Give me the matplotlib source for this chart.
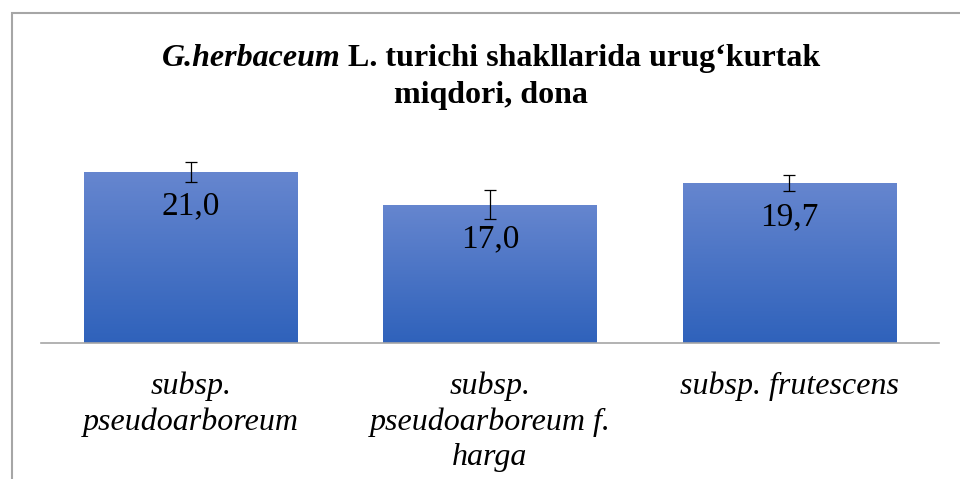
import numpy as np
import matplotlib
matplotlib.use("Agg")
import matplotlib.pyplot as plt
from matplotlib.patches import Rectangle
from matplotlib.colors import LinearSegmentedColormap

# data
categories = ["subsp.\npseudoarboreum", "subsp.\npseudoarboreum f.\nharga", "subsp. frutescens"]
values = [21.0, 17.0, 19.7]
errors = [1.2, 1.8, 1.0]
value_labels = ["21,0", "17,0", "19,7"]

plt.rcParams['font.family'] = ['Liberation Serif', 'DejaVu Serif']

fig = plt.figure(figsize=(9.6, 4.79), dpi=100)
ax = fig.add_axes([41/960, 136/479, 898/960, 203.5/479])

x = np.arange(len(values))
bars = ax.bar(x, values, width=0.712, color='none', edgecolor='none', zorder=1)

# vertical gradient fill for each bar
grad = LinearSegmentedColormap.from_list('g', ['#2F62BB', '#6686CF'])
for b in bars:
    x0, y0 = b.get_x(), b.get_y()
    w, h = b.get_width(), b.get_height()
    im = ax.imshow(np.linspace(0, 1, 256).reshape(-1, 1), cmap=grad, origin='lower',
                   extent=[x0, x0 + w, y0, y0 + h], aspect='auto', zorder=1)
    im.set_clip_path(b)

ax.errorbar(x, values, yerr=errors, fmt='none', ecolor='black', elinewidth=0.9,
            capsize=4.3, capthick=0.9, zorder=3)

for xi, v, lab in zip(x, values, value_labels):
    ax.annotate(lab, (xi, v), xytext=(0, -24.5), textcoords='offset points',
                ha='center', va='center', fontsize=24, zorder=4)

ax.set_xlim(-0.5, 2.5)
ax.set_ylim(0, 25)
ax.set_xticks(x)
ax.set_xticklabels(categories, fontsize=23, style='italic', linespacing=1.28, va='top')
ax.tick_params(axis='x', length=0, pad=20.5)
ax.set_yticks([])
for s in ['top', 'right', 'left']:
    ax.spines[s].set_visible(False)
ax.spines['bottom'].set_color('#A6A6A6')
ax.spines['bottom'].set_linewidth(1.2)
ax.patch.set_visible(False)

# outer chart border (bottom/right fall outside the image)
fig.patches.append(Rectangle((12/960, -0.2), 1.2, (479 - 13)/479 + 0.2,
                             transform=fig.transFigure, fill=False,
                             edgecolor='#A6A6A6', linewidth=1.5))

# title with italic species name
cx = 491/960
t1 = fig.text(0, 1 - 66/479, "G.herbaceum", fontsize=23, fontweight='bold',
              style='italic', va='baseline', ha='left')
t2 = fig.text(0, 1 - 66/479, " L. turichi shakllarida urug\u2018kurtak", fontsize=23,
              fontweight='bold', va='baseline', ha='left')
fig.text(cx, 1 - 103/479, "miqdori, dona", fontsize=23, fontweight='bold',
         va='baseline', ha='center')
fig.canvas.draw()
r = fig.canvas.get_renderer()
w1 = t1.get_window_extent(r).width / fig.bbox.width
w2 = t2.get_window_extent(r).width / fig.bbox.width
start = cx - (w1 + w2) / 2
t1.set_x(start)
t2.set_x(start + w1)

fig.savefig("out.png", dpi=100)
